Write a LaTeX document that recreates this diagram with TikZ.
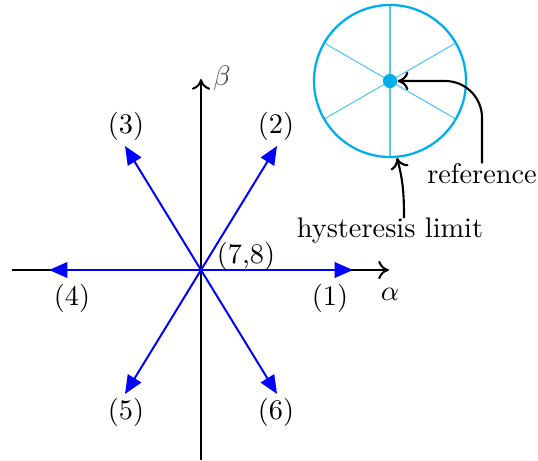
\documentclass[tikz,border=0pt]{standalone}
\usetikzlibrary{arrows.meta}
\definecolor{ringc}{RGB}{0,174,239}
\definecolor{spokec}{RGB}{90,200,245}
\tikzset{
  axis/.style={line width=0.7pt,black,-{To[length=3.8pt,width=6.5pt]}},
  vec/.style={line width=0.7pt,blue,-{Triangle[length=6.5pt,width=5.5pt]}},
  lbl/.style={inner sep=0pt,font=\normalsize},
  callout/.style={line width=0.75pt,black,-{To[length=3.8pt,width=6.5pt]}}
}
\begin{document}
\begin{tikzpicture}[x=0.353pt,y=-0.353pt]
\useasboundingbox (0,0) rectangle (538,460);
% coordinates
\coordinate (O) at (201,270);
\coordinate (xs) at (12,270);
\coordinate (xe) at (389,270);
\coordinate (ys) at (201,460);
\coordinate (ye) at (201,79);
\coordinate (t1) at (353,270);
\coordinate (t2) at (277,146);
\coordinate (t3) at (125,146);
\coordinate (t4) at (49,270);
\coordinate (t5) at (125,394);
\coordinate (t6) at (277,394);
% axes
\draw[axis] (xs) -- (xe);
\draw[axis] (ys) -- (ye);
% vectors
\foreach \t in {t1,t2,t3,t4,t5,t6} \draw[vec] (O) -- (\t);
% labels
\node[lbl] (a) at (390,294) {$\alpha$};
\node[lbl,text=black!70] (b) at (222,78) {$\beta$};
\node[lbl] (l78) at (246,256) {(7,8)};
\node[lbl] (l1) at (330,298) {(1)};
\node[lbl] (l2) at (276,126) {(2)};
\node[lbl] (l3) at (126,126) {(3)};
\node[lbl] (l4) at (72,298) {(4)};
\node[lbl] (l5) at (126,412) {(5)};
\node[lbl] (l6) at (276,412) {(6)};
% ring
\coordinate (C) at (390,81);
\foreach \a in {30,90,150,210,270,330}
  \draw[spokec,line width=0.4pt] (C) -- ++(\a:76);
\draw[ringc,line width=0.8pt] (C) circle[radius=76];
\node[circle,fill=ringc,inner sep=0pt,minimum size=5pt] (dot) at (C) {};
\coordinate (rimb) at (397,158);
% callouts
\node[lbl] (ref) at (482,174) {reference};
\node[lbl] (hl) at (390,231) {hysteresis limit};
\draw[callout,rounded corners=13pt] (ref.north) |- (dot.east);
\draw[callout] (404,218) to[out=90,in=-75] (rimb);
\end{tikzpicture}
\end{document}
